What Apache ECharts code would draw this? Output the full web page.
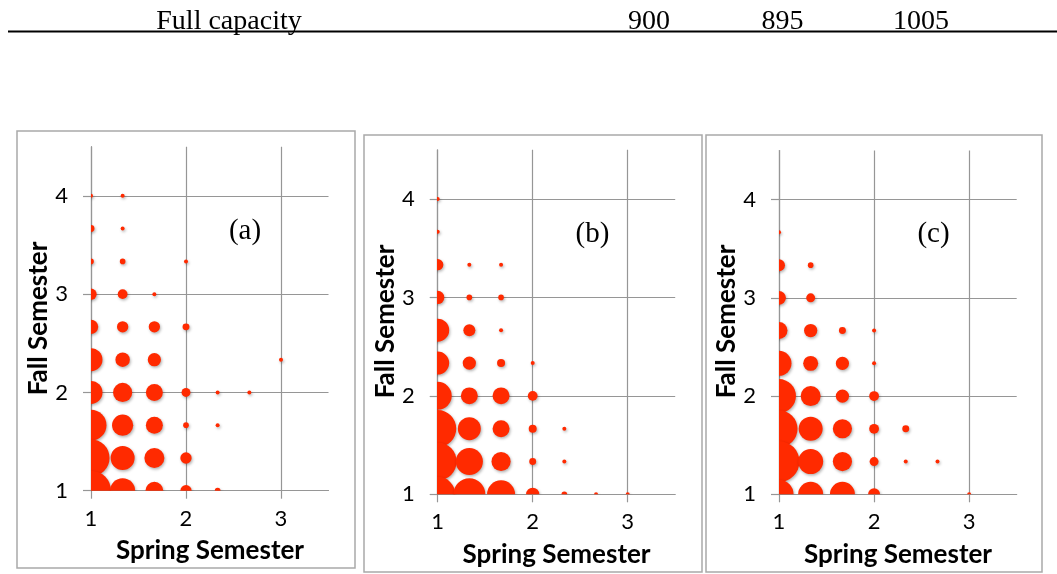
<!DOCTYPE html>
<html>
<head>
<meta charset="utf-8">
<script src="https://cdn.jsdelivr.net/npm/echarts@6/dist/echarts.min.js"></script>
<style>
html,body{margin:0;padding:0;background:#fff;}
#chart{width:1057px;height:574px;}
</style>
</head>
<body>
<div id="chart"></div>
<script>
// Header row of the table above the figure
var headerLabel = "Full capacity";
var headerValues = ["900", "895", "1005"];

// Tick labels
var springTicks = [1, 2, 3];
var fallTicks = [1, 2, 3, 4];

// Panel labels
var panelNames = ["(a)", "(b)", "(c)"];

// Bubble data: [spring semester, fall semester, count]
var panelA = [
  [1, 4, 1], [1.333, 4, 1],
  [1, 3.667, 3], [1.333, 3.667, 1],
  [1, 3.333, 2], [1.333, 3.333, 2], [2, 3.333, 1],
  [1, 3, 8], [1.333, 3, 6], [1.667, 3, 1],
  [1, 2.667, 13], [1.333, 2.667, 8], [1.667, 2.667, 8], [2, 2.667, 3],
  [1, 2.333, 33], [1.333, 2.333, 13], [1.667, 2.333, 11], [3, 2.333, 1],
  [1, 2, 33], [1.333, 2, 23], [1.667, 2, 18], [2, 2, 5], [2.333, 2, 1], [2.667, 2, 1],
  [1, 1.667, 60], [1.333, 1.667, 28], [1.667, 1.667, 18], [2, 1.667, 2], [2.333, 1.667, 1],
  [1, 1.333, 86], [1.333, 1.333, 36], [1.667, 1.333, 25], [2, 1.333, 8],
  [1, 1, 100], [1.333, 1, 39], [1.667, 1, 20], [2, 1, 8], [2.333, 1, 2]
];
var panelB = [
  [1, 4, 1],
  [1, 3.667, 1],
  [1, 3.333, 8], [1.333, 3.333, 1], [1.667, 3.333, 1],
  [1, 3, 11], [1.333, 3, 2], [1.667, 3, 2],
  [1, 2.667, 33], [1.333, 2.667, 9], [1.667, 2.667, 1],
  [1, 2.333, 33], [1.333, 2.333, 11], [1.667, 2.333, 4], [2, 2.333, 1],
  [1, 2, 49], [1.333, 2, 18], [1.667, 2, 18], [2, 2, 6],
  [1, 1.667, 86], [1.333, 1.667, 33], [1.667, 1.667, 18], [2, 1.667, 4], [2.333, 1.667, 1],
  [1, 1.333, 90], [1.333, 1.333, 46], [1.667, 1.333, 23], [2, 1.333, 3], [2.333, 1.333, 1],
  [1, 1, 77], [1.333, 1, 64], [1.667, 1, 49], [2, 1, 11], [2.333, 1, 2], [2.667, 1, 1], [3, 1, 1]
];
var panelC = [
  [1, 3.667, 1],
  [1, 3.333, 9], [1.333, 3.333, 2],
  [1, 3, 12], [1.333, 3, 5],
  [1, 2.667, 18], [1.333, 2.667, 11], [1.667, 2.667, 3], [2, 2.667, 1],
  [1, 2.333, 39], [1.333, 2.333, 14], [1.667, 2.333, 11], [2, 2.333, 1],
  [1, 2, 72], [1.333, 2, 25], [1.667, 2, 11], [2, 2, 6],
  [1, 1.667, 86], [1.333, 1.667, 36], [1.667, 1.667, 23], [2, 1.667, 6], [2.333, 1.667, 3],
  [1, 1.333, 105], [1.333, 1.333, 39], [1.667, 1.333, 23], [2, 1.333, 5], [2.333, 1.333, 1], [2.667, 1.333, 1],
  [1, 1, 53], [1.333, 1, 39], [1.667, 1, 39], [2, 1, 9], [3, 1, 1]
];

var panels = [panelA, panelB, panelC];

// Layout (pixels)
var grids = [
  {left: 91, top: 146.7, width: 237.5, height: 344},
  {left: 437.7, top: 149.8, width: 237.5, height: 344.5},
  {left: 779, top: 150.5, width: 237.7, height: 343.8}
];
var boxes = [
  {x: 17, y: 131, w: 338, h: 437},
  {x: 364, y: 135, w: 338, h: 437},
  {x: 706, y: 135, w: 336, h: 437}
];
var yNamePos = [[39, 318.5], [386, 321.5], [727, 321.5]];
var xNamePos = [[210, 551], [556.5, 555], [898, 555]];
var tagPos = [[245, 231], [592.5, 234], [933.5, 234]];
var headerPos = [229, 649, 782.5, 921];

var gray = '#969696';
var red = '#ff2a00';
var font = 'Lato, "Open Sans", sans-serif';
var serif = '"Liberation Serif", "Times New Roman", serif';

var chart = echarts.init(document.getElementById('chart'), null, {renderer: 'canvas'});

var xAxes = [], yAxes = [], series = [], graphics = [];

function renderBubble(params, api) {
  var p = api.coord([api.value(0), api.value(1)]);
  var r = 2 * Math.sqrt(api.value(2));
  return {
    type: 'circle',
    shape: {cx: p[0], cy: p[1], r: r},
    style: {fill: red, shadowBlur: 3, shadowOffsetX: 1, shadowOffsetY: 1.5, shadowColor: 'rgba(0,0,0,0.3)'}
  };
}

grids.forEach(function (g, i) {
  xAxes.push({
    type: 'value', gridIndex: i, min: 1, max: 3.5, interval: 1,
    axisLine: {show: true, lineStyle: {color: gray, width: 1.2}},
    axisTick: {show: true, length: 8, customValues: springTicks, lineStyle: {color: gray, width: 1.2}},
    axisLabel: {customValues: springTicks, color: '#000', fontSize: 22, fontFamily: font, margin: 17},
    splitLine: {show: true, lineStyle: {color: gray, width: 1.2}}
  });
  yAxes.push({
    type: 'value', gridIndex: i, min: 1, max: 4.5, interval: 1,
    axisLine: {show: true, lineStyle: {color: gray, width: 1.2}},
    axisTick: {show: true, length: 8, customValues: fallTicks, lineStyle: {color: gray, width: 1.2}},
    axisLabel: {customValues: fallTicks, color: '#000', fontSize: 22, fontFamily: font, margin: 23},
    splitLine: {show: true, lineStyle: {color: gray, width: 1.2}}
  });
  series.push({
    type: 'custom', xAxisIndex: i, yAxisIndex: i, clip: true,
    data: panels[i],
    encode: {x: 0, y: 1},
    renderItem: renderBubble,
    silent: true,
    z: 3
  });
  var b = boxes[i];
  graphics.push({
    type: 'rect', shape: {x: b.x, y: b.y, width: b.w, height: b.h},
    style: {fill: 'none', stroke: '#a9a9a9', lineWidth: 1.5}, z: 0, silent: true
  });
  graphics.push({
    type: 'text', x: yNamePos[i][0], y: yNamePos[i][1], rotation: Math.PI / 2,
    style: {text: 'Fall Semester', fontFamily: font, fontWeight: 'bold', fontSize: 26, fill: '#000', align: 'center', verticalAlign: 'middle'},
    z: 10, silent: true
  });
  graphics.push({
    type: 'text', x: xNamePos[i][0], y: xNamePos[i][1],
    style: {text: 'Spring Semester', fontFamily: font, fontWeight: 'bold', fontSize: 26, fill: '#000', align: 'center', verticalAlign: 'middle'},
    z: 10, silent: true
  });
  graphics.push({
    type: 'text', x: tagPos[i][0], y: tagPos[i][1],
    style: {text: panelNames[i], fontFamily: serif, fontSize: 29, fill: '#000', align: 'center', verticalAlign: 'middle'},
    z: 10, silent: true
  });
});

// header row
graphics.push({
  type: 'text', x: headerPos[0], y: 8,
  style: {text: headerLabel, fontFamily: serif, fontSize: 28, fill: '#000', align: 'center', verticalAlign: 'top'},
  silent: true
});
headerValues.forEach(function (t, k) {
  graphics.push({
    type: 'text', x: headerPos[k + 1], y: 8,
    style: {text: t, fontFamily: serif, fontSize: 28, fill: '#000', align: 'center', verticalAlign: 'top'},
    silent: true
  });
});
graphics.push({
  type: 'line', shape: {x1: 8, y1: 31.5, x2: 1057, y2: 31.5},
  style: {stroke: '#000', lineWidth: 2}, silent: true
});

chart.setOption({
  backgroundColor: '#fff',
  animation: false,
  grid: grids.map(function (g) { return {left: g.left, top: g.top, width: g.width, height: g.height}; }),
  xAxis: xAxes,
  yAxis: yAxes,
  series: series,
  graphic: graphics
});
</script>
</body>
</html>
